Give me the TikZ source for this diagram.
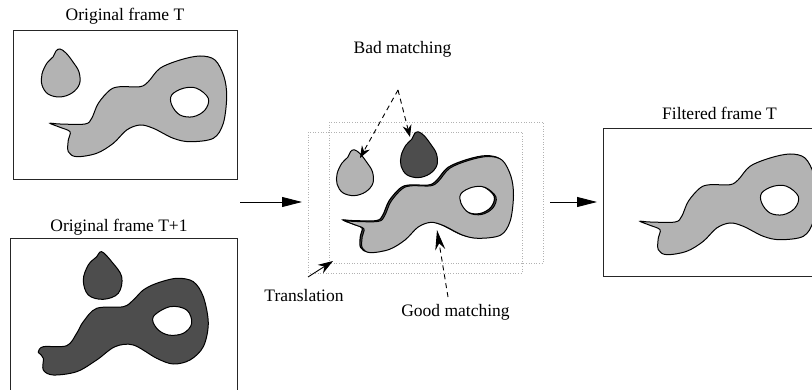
\documentclass[tikz,border=0pt]{standalone}
\usepackage{fontspec}
\setmainfont{Liberation Serif}
\usetikzlibrary{arrows.meta}
\definecolor{lg}{RGB}{179,179,179}
\definecolor{dg}{RGB}{77,77,77}
\newcommand\dropT{plot[smooth cycle,tension=0.6] coordinates{(60,49) (66,53) (73,62) (79,72) (79.5,84) (72,93) (60,97) (48,94) (42,85) (42,74) (47,63) (53,57) (56,51)}}
\newcommand\blobT{plot[smooth cycle,tension=0.55] coordinates{(50,123.3) (60,124) (85,124) (91.7,118.3) (98.3,103.3) (110,90) (120,86.7) (140,86.7) (148.3,81.7) (160,68.3) (180,60) (200,56) (215,60) (224,76.7) (226.7,96.7) (223.3,123.3) (213.3,138.3) (190,141.7) (173.3,138.3) (153.3,128.3) (140,125) (126.7,130) (113.3,143.3) (96.7,153.3) (76.7,156.7) (68.3,151.7) (68.3,140) (70,131.7) (60,127.3)}}
\newcommand\holeT{plot[smooth cycle,tension=0.6] coordinates{(171.7,95) (183.3,88.3) (196.7,88.3) (208.3,98.3) (205,110) (193.3,116.7) (180,115) (171.7,105)}}
\newcommand\dropU{plot[smooth cycle,tension=0.6] coordinates{(101.7,251.7) (111.7,261.7) (121.7,276.7) (118.3,293.3) (103.3,299.3) (88.3,295) (83.3,280) (88.3,265) (96.7,256.7)}}
\newcommand\blobU{plot[smooth cycle,tension=0.55] coordinates{(38.3,351.7) (43.3,346.7) (66.7,345.7) (76.7,333.3) (83.3,321.7) (96.7,308.3) (123.3,306.7) (133.3,300) (143.3,290) (156.7,283.3) (176.7,278.3) (193.3,281.7) (203.3,296.7) (208.3,323.3) (203.3,346.7) (190,360) (173.3,364) (156.7,358.3) (133.3,345) (115,346.7) (96.7,360) (76.7,371.7) (53.3,375) (43.3,370) (43.3,358.3) (39.3,353.3)}}
\newcommand\holeU{plot[smooth cycle,tension=0.6] coordinates{(153.3,316.7) (170,306.7) (186.7,310) (191.7,323.3) (183.3,333.3) (168.3,335) (156.7,328.3)}}
\tikzset{
  frame/.style={draw=black!85, line width=1pt, inner sep=0pt},
  lbl/.style={font=\fontsize{17.5}{20}\selectfont, anchor=base, inner sep=0pt},
  shp/.style={draw=black, line width=1pt, even odd rule},
  bigarrow/.style={line width=0.9pt, -{Triangle[length=20pt,width=10pt]}},
  dasharrow/.style={line width=0.9pt, dashed, dash pattern=on 5pt off 4pt, -{Stealth[length=12pt,width=9pt]}},
  dotbox/.style={draw=black!30, dotted, line width=0.6pt}
}
\begin{document}
\begin{tikzpicture}[x=1pt,y=-1pt]
\useasboundingbox (0,0) rectangle (812,390);
\clip (0,0) rectangle (812,390);
% frames
\node[frame, minimum width=224pt, minimum height=149pt] (fT) at (125,105.5) {};
\node[frame, minimum width=227pt, minimum height=170pt] (fU) at (123.5,324) {};
\node[frame, minimum width=224pt, minimum height=148pt] (fF) at (715,203) {};
% titles
\node[lbl] (tT) at (125,21) {Original frame T};
\node[lbl] (tU) at (119,231.5) {Original frame T+1};
\node[lbl] (tF) at (719.5,120) {Filtered frame T};
% frame T shapes
\filldraw[shp, fill=lg] \dropT;
\filldraw[shp, fill=lg] \blobT \holeT;
% frame T+1 shapes
\filldraw[shp, fill=dg] \dropU;
\filldraw[shp, fill=dg] \blobU \holeU;
% filtered frame
\begin{scope}[shift={(590,98)}]
\filldraw[shp, fill=lg] \blobT \holeT;
\end{scope}
% middle composite
\path[dotbox] (329,122) rectangle (543,263);
\path[dotbox] (308,132) rectangle (522,273);
\begin{scope}[shift={(361,85)}, scale=0.955]
\filldraw[shp, fill=dg] \dropT;
\end{scope}
\begin{scope}[shift={(295.2,102.2)}, scale=0.955]
\filldraw[shp, fill=dg, line width=1.2pt] \blobT \holeT;
\end{scope}
\begin{scope}[shift={(297,103)}, scale=0.955]
\filldraw[shp, fill=lg] \dropT;
\filldraw[shp, fill=lg] \blobT \holeT;
\end{scope}
% connector end points
\coordinate (a1s) at (240,202);
\coordinate (a1e) at (302,202);
\coordinate (a2s) at (550,202);
\coordinate (a2e) at (597,202);
\coordinate (bm) at (398,90);
\coordinate (lgd) at (360,158);
\coordinate (dkd) at (410,137);
\coordinate (gms) at (448,297);
\coordinate (gme) at (437,230);
\coordinate (trs) at (308,277);
\coordinate (tre) at (333,261);
% labels
\node[lbl] (lBad) at (402.5,53.3) {Bad matching};
\node[lbl] (lTr) at (304,301.7) {Translation};
\node[lbl] (lGood) at (455.5,316.7) {Good matching};
% arrows
\draw[bigarrow] (a1s) -- (a1e);
\draw[bigarrow] (a2s) -- (a2e);
\draw[dasharrow] (bm) -- (lgd);
\draw[dasharrow] (bm) -- (dkd);
\draw[dasharrow, -{Stealth[length=20pt,width=10pt]}] (gms) -- (gme);
\draw[line width=0.9pt, -{Stealth[length=15pt,width=10pt]}] (trs) -- (tre);
\end{tikzpicture}
\end{document}
